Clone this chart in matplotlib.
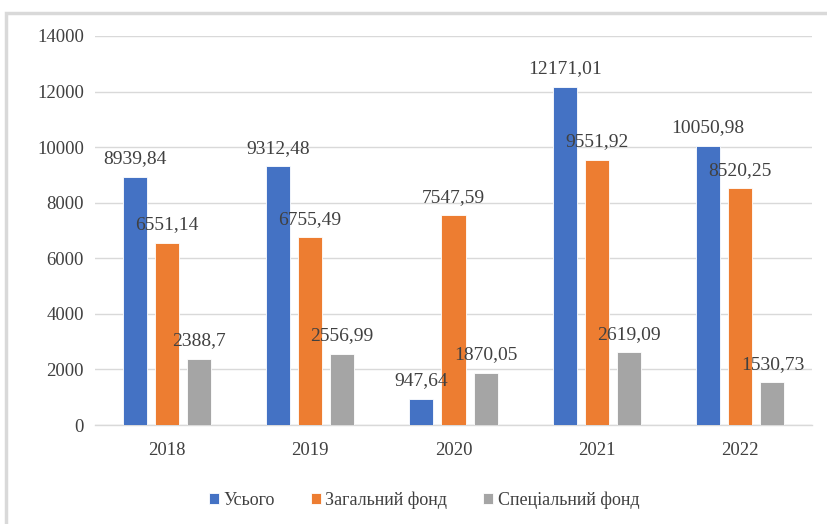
import matplotlib.pyplot as plt
import numpy as np
from matplotlib.patches import Rectangle

years = ["2018", "2019", "2020", "2021", "2022"]
total = [8939.84, 9312.48, 947.64, 12171.01, 10050.98]
general_fund = [6551.14, 6755.49, 7547.59, 9551.92, 8520.25]
special_fund = [2388.7, 2556.99, 1870.05, 2619.09, 1530.73]
series_names = ["Усього", "Загальний фонд", "Спеціальний фонд"]
colors = ["#4472C4", "#ED7D31", "#A5A5A5"]
y_ticks = [0, 2000, 4000, 6000, 8000, 10000, 12000, 14000]


def fmt(v):
    # decimal comma, trailing zeros dropped
    return format(v, ".2f").rstrip("0").rstrip(".").replace(".", ",")


plt.rcParams['font.family'] = ['Liberation Serif', 'DejaVu Serif']

fig = plt.figure(figsize=(8.28, 5.24), dpi=100)
fig.patches.append(Rectangle((6 / 828, -0.1), 1.0, (524 - 13) / 524 + 0.1,
                             transform=fig.transFigure, fill=False,
                             edgecolor="#d9d9d9", linewidth=2.5, zorder=0))

ax = fig.add_axes([95 / 828, (524 - 425) / 524, (812 - 95) / 828, (425 - 36) / 524])

x = np.arange(len(years))
width = 0.168
step = 0.224
data = [total, general_fund, special_fund]
for i, (vals, name, col) in enumerate(zip(data, series_names, colors)):
    pos = x + (i - 1) * step
    bars = ax.bar(pos, vals, width=width, color=col, label=name,
                  edgecolor="white", linewidth=0.6, zorder=3)
    for b, v in zip(bars, vals):
        ax.annotate(fmt(v), (b.get_x() + b.get_width() / 2, v),
                    xytext=(0, 18), textcoords="offset pixels",
                    ha="center", va="center",
                    fontsize=14, color="#404040", zorder=4)

ax.set_xlim(-0.5, len(years) - 0.5)
ax.set_ylim(0, 14000)
ax.set_yticks(y_ticks)
ax.set_yticklabels([str(t) for t in y_ticks])
ax.set_xticks(x)
ax.set_xticklabels(years)
ax.tick_params(axis="both", length=0, labelsize=13.5, labelcolor="#404040")
ax.tick_params(axis="y", pad=8)
ax.tick_params(axis="x", pad=12)
ax.grid(axis="y", color="#d9d9d9", linewidth=1, zorder=0)
for s in ["top", "right", "left"]:
    ax.spines[s].set_visible(False)
ax.spines["bottom"].set_color("#d9d9d9")
ax.spines["bottom"].set_linewidth(1)

leg = fig.legend(loc="center", bbox_to_anchor=(424 / 828, (524 - 500) / 524),
                 ncol=3, frameon=False, fontsize=13, handlelength=0.55,
                 handleheight=0.55, handletextpad=0.25, columnspacing=2.0)
for t in leg.get_texts():
    t.set_color("#404040")

fig.savefig("out.png", dpi=100)
